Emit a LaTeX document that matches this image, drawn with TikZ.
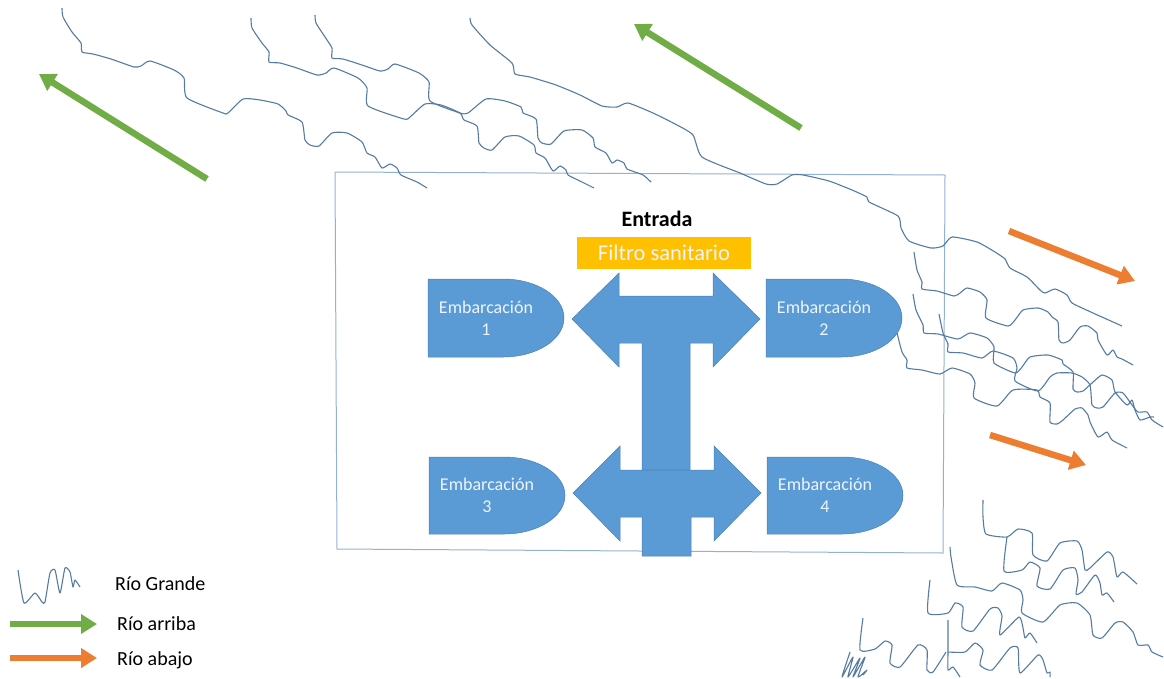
\documentclass[tikz,border=0pt]{standalone}
\usepackage{fontspec}
\setmainfont{Carlito}
\usetikzlibrary{arrows.meta}

\definecolor{riverblue}{HTML}{557BA1}
\definecolor{framecol}{HTML}{92B2D2}
\definecolor{boatblue}{HTML}{5B9BD5}
\definecolor{boatline}{HTML}{4A80B2}
\definecolor{upgreen}{HTML}{70AD47}
\definecolor{downorange}{HTML}{ED7D31}
\definecolor{filteryellow}{HTML}{FFC000}
\definecolor{softwhite}{HTML}{EEF4FA}

\begin{document}
\begin{tikzpicture}[x=1pt,y=-1pt,>=Triangle,
  river/.style={draw=riverblue,line width=1.1pt,line join=round,smooth,tension=0.35},
  boat/.style={fill=boatblue,draw=boatline,line width=0.5pt},
  boat node/.style={align=center,text=softwhite,font=\fontsize{18}{22}\selectfont,inner sep=0pt},
  flow arrow/.style={line width=6.5pt,-{Triangle[length=16pt,width=19pt]}},
  legend node/.style={anchor=west,font=\fontsize{20}{22}\selectfont,inner sep=0pt}]

  \useasboundingbox (0,0) rectangle (1164,678);

  \draw[framecol,line width=1pt] (335,172) -- (945,175) -- (943,553) -- (337,549) -- cycle;

  \draw[river] plot coordinates {(62,8) (63,17) (72,32) (81,43) (82,52) (93,54) (111,59) (134,67) (141,66) (150,61) (174,70) (184,78) (187,98) (223,113) (228,113) (243,99) (260,100) (278,104) (286,111) (288,115) (302,122) (305,140) (310,145) (319,146) (332,133) (347,133) (362,142) (367,153) (375,157) (382,168) (390,164) (397,168) (401,175) (417,182) (427,188)};
  \draw[river] plot coordinates {(251,18) (252,28) (262,43) (269,52) (269,62) (280,63) (297,68) (317,75) (326,73) (334,68) (358,78) (367,88) (368,106) (404,119) (410,117) (425,104) (441,105) (460,113) (464,120) (477,126) (479,143) (484,148) (492,150) (505,137) (519,136) (534,145) (536,153) (545,158) (553,171) (560,166) (566,170) (568,175) (582,182) (594,188)};
  \draw[river] plot coordinates {(315,15) (316,23) (325,37) (332,48) (332,58) (343,59) (362,65) (380,71) (388,69) (395,64) (419,73) (429,82) (430,101) (460,113) (468,113) (486,99) (505,101) (521,107) (523,113) (536,119) (538,138) (542,143) (551,144) (564,131) (582,130) (593,138) (595,147) (606,153) (612,163) (617,160) (624,163) (627,169) (643,175) (651,182)};
  \draw[river] plot coordinates {(470,18) (472,25) (490,45) (512,63) (515,74) (530,77) (556,85) (580,95) (602,106) (617,107) (628,103) (653,113) (677,125) (693,135) (702,157) (740,173) (766,184) (777,184) (792,175) (803,175) (829,181) (852,190) (867,197) (869,202) (898,216) (901,228) (909,241) (931,248) (943,246) (952,237) (977,242) (995,252) (1005,259) (1010,268) (1027,277) (1040,290) (1045,293) (1055,289) (1067,295) (1072,303) (1093,313) (1122,326)};

  \draw[river] plot coordinates {(914,252) (917,270) (922,282) (922,289) (937,291) (954,296) (960,293) (967,288) (980,292) (987,300) (986,318) (1008,326) (1015,320) (1023,310) (1038,308) (1048,312) (1052,317) (1058,322) (1059,340) (1063,343) (1070,340) (1080,327) (1088,326) (1097,333) (1098,340) (1107,355) (1113,350) (1117,357) (1122,359) (1133,365)};
  \draw[river] plot coordinates {(913,294) (916,310) (923,325) (924,333) (938,334) (958,339) (970,333) (987,338) (994,347) (994,363) (1015,373) (1022,367) (1030,357) (1048,355) (1062,360) (1063,364) (1073,372) (1073,389) (1077,392) (1083,391) (1092,383) (1102,375) (1112,380) (1115,392) (1127,405) (1132,400) (1135,410) (1140,420) (1150,417) (1154,417)};
  \draw[river] plot coordinates {(939,314) (943,333) (948,344) (948,352) (963,353) (982,358) (993,351) (1013,358) (1017,368) (1015,381) (1038,391) (1050,377) (1057,373) (1072,373) (1082,377) (1090,385) (1092,405) (1097,408) (1103,407) (1115,393) (1123,393) (1132,405) (1138,412) (1147,412) (1152,420) (1163,427)};
  \draw[river] plot coordinates {(897,333) (902,352) (907,360) (907,368) (922,370) (940,374) (952,368) (970,374) (975,383) (974,398) (997,406) (1013,390) (1037,390) (1040,397) (1050,403) (1050,422) (1057,424) (1063,420) (1075,409) (1082,408) (1088,415) (1090,422) (1098,437) (1107,432) (1112,440) (1127,448)};

  \draw[river] plot coordinates {(983,500) (983,517) (986,534) (1007,537) (1018,529) (1032,533) (1033,555) (1047,561) (1060,543) (1077,541) (1082,550) (1085,570) (1090,568) (1107,552) (1113,557) (1117,577) (1123,572) (1137,584)};
  \draw[river] plot coordinates {(1007,537) (1004,571) (1022,570) (1030,562) (1040,568) (1037,586) (1050,589) (1063,570) (1075,568) (1078,580) (1076,594) (1082,592) (1095,575) (1100,583) (1102,595) (1107,593) (1114,602)};
  \draw[river] plot coordinates {(950,547) (951,557) (957,585) (975,587) (992,591) (1002,583) (1020,590) (1023,600) (1022,613) (1043,622) (1060,605) (1077,603) (1090,615) (1093,635) (1102,638) (1115,623) (1123,622) (1133,632) (1138,645) (1148,645) (1152,652) (1163,657)};
  \draw[river] plot coordinates {(930,580) (928,613) (948,613) (955,603) (963,607) (962,627) (973,631) (990,609) (998,608) (1002,616) (1000,635) (1019,617) (1023,628) (1025,638) (1030,633) (1037,643)};
  \draw[river] plot coordinates {(948,620) (948,652) (948,670) (953,667) (960,677)};
  \draw[river] plot coordinates {(948,652) (965,652) (975,643) (983,650) (980,665) (992,670) (1010,648) (1018,648) (1020,673) (1038,655) (1043,660) (1047,673) (1050,672) (1050,677)};
  \draw[river] plot coordinates {(863,618) (860,650) (875,649) (885,641) (892,645) (890,663) (900,667) (918,645) (927,650) (927,670) (933,672) (946,652)};
  \draw[river] plot coordinates {(850,652) (842,677) (853,657) (848,677) (860,658) (853,677) (865,657) (858,677) (867,670) (863,675)};
  \draw[river] plot coordinates {(18,570) (24,603) (35,593) (42,602) (45,602) (50,573) (55,570) (60,593) (65,568) (70,572) (73,587) (75,580) (80,587)};

  \coordinate (up1 start) at (207,179);
  \coordinate (up1 end) at (39,74);
  \coordinate (up2 start) at (801,128);
  \coordinate (up2 end) at (634,24);
  \coordinate (down1 start) at (1009,231);
  \coordinate (down1 end) at (1135,281);
  \coordinate (down2 start) at (990,435);
  \coordinate (down2 end) at (1086,465);
  \coordinate (up key start) at (10,624);
  \coordinate (up key end) at (97,624);
  \coordinate (down key start) at (10,658);
  \coordinate (down key end) at (97,658);

  \draw[flow arrow,upgreen] (up1 start) -- (up1 end);
  \draw[flow arrow,upgreen] (up2 start) -- (up2 end);
  \draw[flow arrow,downorange] (down1 start) -- (down1 end);
  \draw[flow arrow,downorange] (down2 start) -- (down2 end);
  \draw[flow arrow,upgreen] (up key start) -- (up key end);
  \draw[flow arrow,downorange] (down key start) -- (down key end);

  \draw[boat] (572,319) -- (619,273) -- (619,296) -- (713,296) -- (713,273) -- (760,319) -- (713,367) -- (713,343) -- (690,343) -- (690,470) -- (642,470) -- (642,343) -- (619,343) -- (619,367) -- cycle;
  \draw[boat] (573,493) -- (620,446) -- (620,470) -- (714,470) -- (714,446) -- (761,493) -- (714,541) -- (714,517) -- (691,517) -- (691,556) -- (642,556) -- (642,517) -- (620,517) -- (620,541) -- cycle;

  \draw[boat] (428,279) -- (503,279) arc[start angle=90,end angle=-90,x radius=61pt,y radius=39pt] -- (428,357) -- cycle;
  \draw[boat] (766,279) -- (841,279) arc[start angle=90,end angle=-90,x radius=61pt,y radius=39pt] -- (766,357) -- cycle;
  \draw[boat] (429,457) -- (504,457) arc[start angle=90,end angle=-90,x radius=61pt,y radius=38.5pt] -- (429,534) -- cycle;
  \draw[boat] (767,457) -- (842,457) arc[start angle=90,end angle=-90,x radius=61pt,y radius=38.5pt] -- (767,534) -- cycle;

  \node[boat node] (boat1) at (486,318) {Embarcación\\1};
  \node[boat node] (boat2) at (824,318) {Embarcación\\2};
  \node[boat node] (boat3) at (487,495) {Embarcación\\3};
  \node[boat node] (boat4) at (825,495) {Embarcación\\4};

  \node[font=\fontsize{22}{24}\selectfont\bfseries,inner sep=0pt] (entrada) at (657,219) {Entrada};
  \node[fill=filteryellow,text=softwhite,minimum width=174pt,minimum height=32pt,inner sep=0pt,font=\fontsize{22.5}{24}\selectfont] (filtro) at (664,253) {Filtro sanitario};

  \node[legend node] (grande) at (115,584) {Río Grande};
  \node[legend node] (arriba) at (117,624) {Río arriba};
  \node[legend node] (abajo) at (117,660) {Río abajo};
\end{tikzpicture}
\end{document}
